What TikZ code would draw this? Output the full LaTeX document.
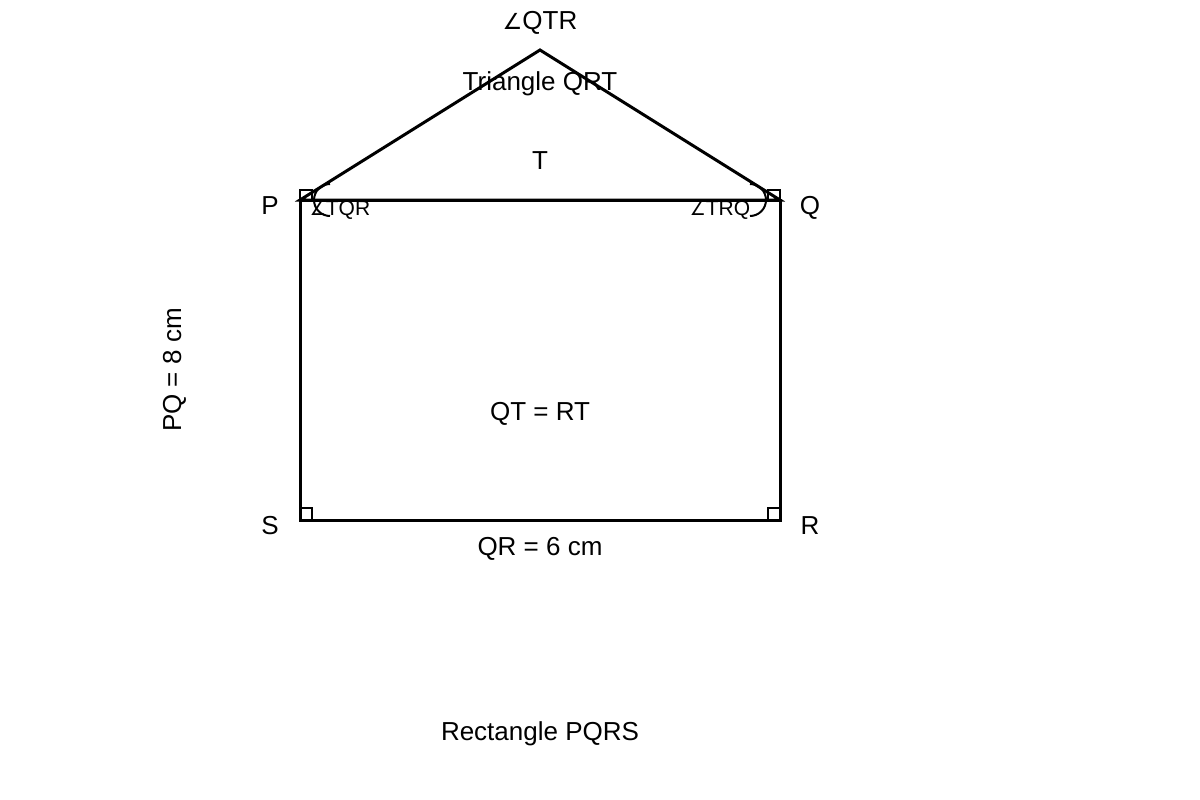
\documentclass[tikz,border=0pt]{standalone}
\usepackage{fontspec}
\setmainfont{Liberation Sans}
\newfontfamily\symfont{DejaVu Sans}[Scale=0.85]
\newcommand{\angsym}{{\symfont\char"2220}}

\begin{document}
\begin{tikzpicture}[x=1pt,y=-1pt,line width=3pt,
			vertex label/.style={font=\fontsize{26}{30}\selectfont,
				inner sep=0pt,anchor=base},
			angle label/.style={font=\fontsize{21}{24}\selectfont,
				inner sep=0pt,anchor=base},
			right mark/.style={line width=1.5pt},
			angle mark/.style={line width=2pt}]
			\useasboundingbox (0,0) rectangle (1200,800);
			
			\coordinate (P) at (300,200);
			\coordinate (Q) at (780,200);
			\coordinate (R) at (780,520);
			\coordinate (S) at (300,520);
			\coordinate (T) at (540,50);
			
			% triangle and rectangle
			\draw[line join=miter] (P) -- (T) -- (Q) -- cycle;
			\draw (P) -- (Q) -- (R) -- (S) -- cycle;
			
			% right angle marks
			\draw[right mark] (P) rectangle ++(12,-10);
			\draw[right mark] (Q) rectangle ++(-12,-10);
			\draw[right mark] (S) rectangle ++(12,-12);
			\draw[right mark] (R) rectangle ++(-12,-12);
			
			% angle arcs
			\draw[angle mark] (330,184) arc[start angle=90,end angle=270,radius=16pt];
			\draw[angle mark] (750,184) arc[start angle=90,end angle=-90,radius=16pt];
			
			\node[vertex label] (lP) at (270,214) {P};
			\node[vertex label] (lQ) at (810,214) {Q};
			\node[vertex label] (lS) at (270,534) {S};
			\node[vertex label] (lR) at (810,534) {R};
			\node[vertex label] (lT) at (540,169) {T};
			\node[vertex label] (lTri) at (540,90) {Triangle QRT};
			\node[vertex label] (lQTR) at (540,30) {\angsym QTR};
			\node[vertex label] (lEq) at (540,420) {QT = RT};
			\node[vertex label] (lQR) at (540,555) {QR = 6 cm};
			\node[vertex label,rotate=90] (lPQ) at (181,370) {PQ = 8 cm};
			\node[vertex label] (lRect) at (540,740) {Rectangle PQRS};
			\node[angle label] (lTQR) at (340,215) {\angsym TQR};
			\node[angle label] (lTRQ) at (720,215) {\angsym TRQ};
		\end{tikzpicture}
\end{document}
